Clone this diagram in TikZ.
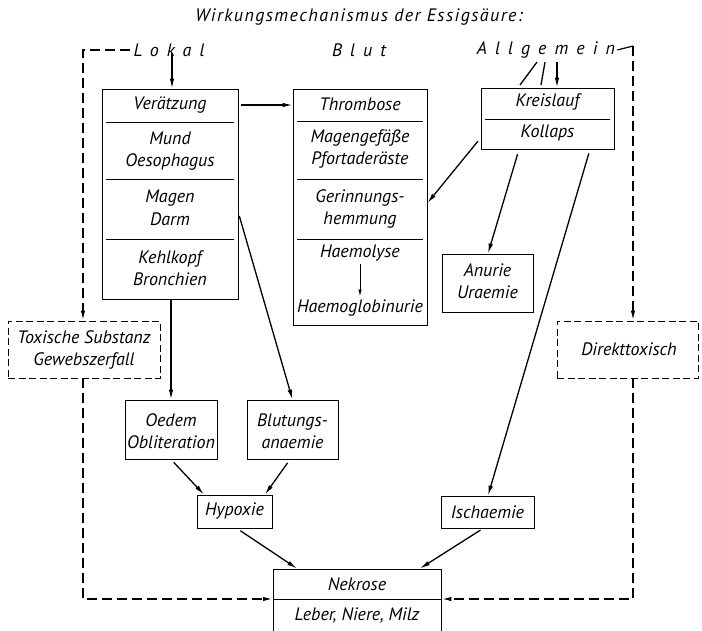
\documentclass[tikz,border=0pt]{standalone}
\usepackage{fontspec}
\setmainfont{PT Sans}
\usetikzlibrary{arrows.meta}

\newcommand{\sperr}[1]{{\addfontfeatures{LetterSpace=45}#1}}

\tikzset{
  txt/.style={align=center, inner sep=0pt, font=\fontsize{18}{22.5}\selectfont\itshape},
  box/.style={draw, line width=0.9pt, inner sep=0pt},
  dbox/.style={box, line width=0.8pt, dash pattern=on 7pt off 3.5pt},
  pfeil/.style={-{Latex[length=10pt,width=4.5pt]}, line width=1.3pt},
  strich/.style={line width=1.6pt, dash pattern=on 10pt off 5pt},
  trenn/.style={line width=0.9pt}
}

\begin{document}
\begin{tikzpicture}[x=1pt,y=-1pt]
\useasboundingbox (0,0) rectangle (702,630);

% Ueberschriften
\node[txt] (titel) at (359,17) {\addfontfeatures{LetterSpace=8}Wirkungsmechanismus der Essigsäure:};
\node[txt] (lokal) at (169,50) {\sperr{Lokal}};
\node[txt] (blut) at (359,50) {\sperr{Blut}};
\node[txt] (allg) at (546,50) {\sperr{Allgemein}};

% Kasten Lokal
\node[box, minimum width=136pt, minimum height=210pt] (lok) at (170,194) {};
\node[txt] (veraetz) at (170,105) {Verätzung};
\node[txt] (mund) at (170,151) {Mund\\Oesophagus};
\node[txt] (magen) at (170,208) {Magen\\Darm};
\node[txt] (kehl) at (170,268) {Kehlkopf\\Bronchien};
\draw[trenn] (106,122) -- (234,122);
\draw[trenn] (106,179) -- (234,179);
\draw[trenn] (106,239) -- (234,239);

% Kasten Blut
\node[box, minimum width=134pt, minimum height=236pt] (blk) at (360,207) {};
\node[txt] (thromb) at (360,104) {Thrombose};
\node[txt] (gefaess) at (360,149) {Magengefäße\\Pfortaderäste};
\node[txt] (gerinn) at (360,209) {Gerinnungs-\\hemmung};
\node[txt] (haemol) at (360,253) {Haemolyse};
\node[txt] (haemog) at (360,308) {Haemoglobinurie};
\draw[trenn] (297,121) -- (423,121);
\draw[trenn] (297,179) -- (423,179);
\draw[trenn] (297,239) -- (423,239);

% Kasten Allgemein
\node[box, minimum width=133pt, minimum height=61pt] (kreis) at (547.5,118.5) {};
\node[txt] (kreisl) at (547.5,102) {Kreislauf};
\node[txt] (kollaps) at (547.5,133) {Kollaps};
\draw[trenn] (485,119) -- (610,119);

\node[box, minimum width=91pt, minimum height=58pt] (anurie) at (487.5,283) {};
\node[txt] at (487.5,281) {Anurie\\Uraemie};

% gestrichelte Kaesten
\node[dbox, minimum width=152pt, minimum height=57pt] (tox) at (84,349.5) {};
\node[txt] at (84,350) {Toxische Substanz\\Gewebszerfall};
\node[dbox, minimum width=141pt, minimum height=57pt] (direkt) at (627.5,349.5) {};
\node[txt] at (629,349) {Direkttoxisch};

% untere Kaesten
\node[box, minimum width=92pt, minimum height=59pt] (oedem) at (171,429.5) {};
\node[txt] at (171,431) {Oedem\\Obliteration};
\node[box, minimum width=91pt, minimum height=59pt] (blutung) at (292.5,429.5) {};
\node[txt] at (292.5,431) {Blutungs-\\anaemie};
\node[box, minimum width=75pt, minimum height=33pt] (hyp) at (234.5,511.5) {};
\node[txt] at (234.5,511) {Hypoxie};
\node[box, minimum width=93pt, minimum height=32pt] (isch) at (487.5,512) {};
\node[txt] at (487.5,512) {Ischaemie};

\node[box, minimum width=168pt, minimum height=62pt] (nekr) at (357,600) {};
\node[txt] (nekrose) at (357,584) {Nekrose};
\node[txt] at (357,615) {Leber, Niere, Milz};
\coordinate (nsep) at (273,599);
\draw[trenn] (nsep) -- (nekr.east |- nsep);

% Pfeile
\draw[pfeil] ([yshift=4pt]lokal.south -| 172,0) -- (lok.north -| 172,0);
\draw[pfeil, shorten <=3pt] (lok.east |- veraetz) -- (blk.west |- veraetz);
\draw[-{Latex[length=7pt,width=3.5pt]}, line width=0.9pt, shorten <=3pt, shorten >=3pt] (haemol.south) -- (haemog.north);
\draw[pfeil] (557,62) -- (kreis.north -| 557,0);
\draw[line width=1.3pt] (520,85) -- (537,62);
\draw[line width=1.3pt] (541,85) -- (545,62);
\draw[pfeil, shorten <=4pt] (kreis.west |- 0,138) -- (blk.east |- 0,203);
\draw[pfeil, shorten <=5pt] (kreis.south -| 519,0) -- (anurie.north -| 488,0);
\draw[pfeil, shorten <=4pt] (kreis.south -| 590,0) -- (isch.north -| 488,0);
\draw[pfeil, shorten <=3pt] (isch.south -| 483,0) -- (nekr.north -| 420,0);
\draw[pfeil, shorten <=4pt] (hyp.south -| 237,0) -- (nekr.north -| 297,0);
\draw[pfeil] (lok.south -| oedem) -- (oedem.north);
\draw[pfeil, shorten <=3pt] (lok.east |- 0,213) -- (blutung.north);
\draw[pfeil, shorten <=4pt] (oedem.south) -- (hyp.north -| 204,0);
\draw[pfeil, shorten <=4pt] (blutung.south -| 290,0) -- (hyp.north -| 265,0);

% gestrichelte Wege
\draw[strich, -{Latex[length=10pt,width=4.5pt]}] ([xshift=-3pt]lokal.west) -| (tox.north -| 83,0);
\draw[strich, -{Latex[length=10pt,width=4.5pt]}] (tox.south -| 83,0) |- (nsep);
\draw[line width=1.2pt] ([xshift=2pt]allg.east) -- (633,46);
\draw[strich, -{Latex[length=10pt,width=4.5pt]}] (633,46) -- (direkt.north -| 633,0);
\draw[strich, -{Latex[length=10pt,width=4.5pt]}] (direkt.south -| 633,0) |- (nekr.east |- nsep);
\end{tikzpicture}
\end{document}
